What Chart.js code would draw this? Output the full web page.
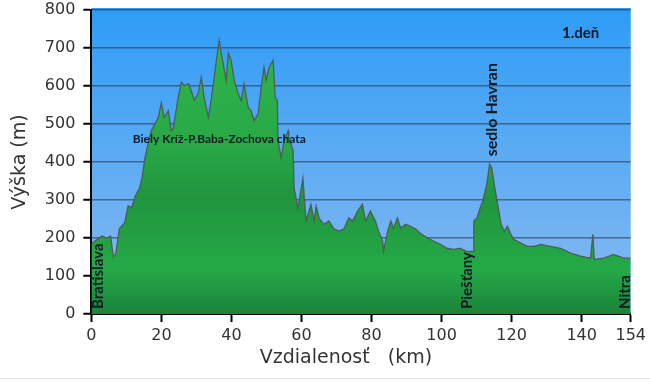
<!DOCTYPE html>
<html>
<head>
<meta charset="utf-8">
<script src="https://cdn.jsdelivr.net/npm/chart.js@4/dist/chart.umd.min.js"></script>
<style>
  html, body { margin: 0; padding: 0; background: #ffffff; }
  #wrap { position: relative; width: 650px; height: 386px; }
  #rule { position: absolute; left: 0; top: 378px; width: 650px; height: 1px; background: #e2e2e2; }
</style>
</head>
<body>
<div id="wrap">
  <canvas id="c" width="650" height="386"></canvas>
  <div id="rule"></div>
</div>
<script>
// ---- data ----
const distanceKm = [
  0.0, 1.5, 3.0, 4.5, 5.5, 6.3, 7.0, 8.0, 9.5, 10.5, 11.5, 12.5, 13.7, 14.5, 15.3, 16.0,
  17.1, 19.1, 20.0, 20.8, 22.0, 22.8, 23.4, 24.8, 25.7, 26.5, 27.7, 28.5, 29.4, 30.5,
  31.4, 32.2, 33.4, 34.2, 35.6, 36.5, 37.6, 38.5, 39.1, 39.9, 40.8, 41.9, 42.8, 43.6,
  44.8, 45.6, 46.5, 47.6, 48.5, 49.3, 49.9, 50.8, 51.9, 52.5, 53.1, 53.3, 54.2, 55.0,
  56.2, 56.4, 57.6, 57.9, 59.0, 60.4, 61.3, 62.7, 63.6, 64.2, 65.0, 66.4, 67.8, 69.3,
  70.7, 72.1, 73.5, 74.6, 76.0, 77.4, 78.3, 79.7, 81.1, 82.0, 83.2, 83.4, 84.6, 85.5,
  86.3, 87.4, 88.3, 89.7, 91.1, 92.5, 94.0, 96.0, 97.7, 99.8, 101.5, 103.5, 105.3, 107.1,
  109.0, 109.2, 110.1, 111.0, 111.8, 112.9, 113.7, 114.3, 115.2, 116.2, 117.0, 117.9,
  118.8, 119.7, 120.5, 122.5, 124.5, 126.3, 128.3, 131.1, 134.0, 136.8, 139.7, 142.5,
  143.2, 143.6, 146.3, 149.1, 152.0, 154.0
];
const elevationM = [
  185, 195, 205, 200, 205, 150, 160, 225, 240, 285, 280, 310, 330, 360, 410, 440,
  482, 517, 556, 517, 535, 482, 490, 570, 610, 601, 606, 588, 562, 580,
  623, 570, 518, 562, 660, 720, 660, 615, 686, 668, 615, 580, 562, 606,
  543, 535, 509, 527, 597, 650, 615, 650, 668, 570, 562, 456, 411, 456,
  482, 465, 430, 332, 279, 358, 245, 289, 245, 284, 253, 236, 245, 224,
  218, 224, 253, 245, 271, 289, 245, 271, 245, 218, 192, 165, 218, 245,
  226, 253, 226, 236, 231, 224, 212, 200, 192, 183, 173, 170, 173, 165,
  165, 245, 253, 279, 298, 342, 395, 385, 332, 279, 236, 218,
  231, 212, 197, 187, 178, 178, 183, 178, 173, 160, 152, 147,
  210, 144, 147, 157, 147, 147
];
const xTickValues = [0, 20, 40, 60, 80, 100, 120, 140, 154];
const yTickStep = 100;
const yMax = 800;

// annotations
const placeLabels = ["Bratislava", "Piešťany", "Nitra"];
const placeKm = [2.0, 107.3, 152.3];
const peakLabel = "sedlo Havran";
const peakKm = 114.3;
const peakElev = 415;
const ridgeLabel = "Biely Kríž-P.Baba-Zochova chata";
const ridgeKm = 11.8;
const ridgeElev = 459;
const dayLabel = "1.deň";
const dayKm = 134.4;
const dayElev = 740;

const points = distanceKm.map((x, i) => ({ x: x, y: elevationM[i] }));

const bgPlugin = {
  id: 'bg',
  beforeDraw(chart) {
    const { ctx, chartArea: a } = chart;
    ctx.save();
    ctx.fillStyle = '#ffffff';
    ctx.fillRect(0, 0, chart.width, chart.height);
    const g = ctx.createLinearGradient(0, a.top, 0, a.bottom);
    g.addColorStop(0, '#2e9cf6');
    g.addColorStop(0.5, '#5eacf3');
    g.addColorStop(1, '#8bbaf0');
    ctx.fillStyle = g;
    ctx.fillRect(a.left, a.top - 2, a.right - a.left, a.bottom - a.top + 2);
    ctx.restore();
  }
};

const labelPlugin = {
  id: 'labels',
  afterDraw(chart) {
    const { ctx, scales: { x, y } } = chart;
    ctx.save();
    ctx.fillStyle = '#0c1a26';
    ctx.font = 'bold 15px Lato, "Open Sans", sans-serif';
    ctx.textAlign = 'left';
    ctx.textBaseline = 'middle';
    placeLabels.forEach((t, i) => {
      ctx.save();
      ctx.translate(x.getPixelForValue(placeKm[i]), y.getPixelForValue(0) - 5);
      ctx.rotate(-Math.PI / 2);
      ctx.fillText(t, 0, 0);
      ctx.restore();
    });
    ctx.font = 'bold 16px Lato, "Open Sans", sans-serif';
    ctx.save();
    ctx.translate(x.getPixelForValue(peakKm), y.getPixelForValue(peakElev));
    ctx.rotate(-Math.PI / 2);
    ctx.fillText(peakLabel, 0, 0);
    ctx.restore();
    ctx.font = 'bold 12px Lato, "Open Sans", sans-serif';
    ctx.fillText(ridgeLabel, x.getPixelForValue(ridgeKm), y.getPixelForValue(ridgeElev));
    ctx.font = 'bold 15px Lato, "Open Sans", sans-serif';
    ctx.fillText(dayLabel, x.getPixelForValue(dayKm), y.getPixelForValue(dayElev));
    ctx.restore();
  }
};

new Chart(document.getElementById('c'), {
  type: 'line',
  data: {
    datasets: [{
      data: points,
      fill: 'start',
      borderColor: 'rgba(80,80,80,0.85)',
      borderWidth: 1.3,
      pointRadius: 0,
      tension: 0,
      backgroundColor: (ctx) => {
        const a = ctx.chart.chartArea;
        if (!a) return '#25a344';
        const g = ctx.chart.ctx.createLinearGradient(0, a.top, 0, a.bottom);
        g.addColorStop(0, '#30ba4d');
        g.addColorStop(0.45, '#28a846');
        g.addColorStop(0.62, '#20953e');
        g.addColorStop(0.85, '#25aa47');
        g.addColorStop(1, '#1b833a');
        return g;
      }
    }]
  },
  options: {
    responsive: false,
    animation: false,
    events: [],
    layout: { padding: { left: 9, right: 17, top: 0, bottom: 17 } },
    plugins: { legend: { display: false }, tooltip: { enabled: false } },
    scales: {
      x: {
        type: 'linear',
        min: 0,
        max: 154,
        afterBuildTicks: (s) => { s.ticks = xTickValues.map(v => ({ value: v })); },
        ticks: {
          autoSkip: false, maxRotation: 0, padding: 4,
          color: '#333333',
          font: { family: '"DejaVu Sans", Verdana, sans-serif', size: 16 }
        },
        grid: { drawOnChartArea: false, drawTicks: true, tickLength: 8, tickColor: '#000000', tickWidth: 2 },
        border: { display: true, color: '#000000', width: 2 },
        title: {
          display: true,
          text: 'Vzdialenosť   (km)     ',
          color: '#333333',
          font: { family: '"DejaVu Sans", Verdana, sans-serif', size: 19 },
          padding: { top: -3, bottom: 0 }
        }
      },
      y: {
        min: 0,
        max: yMax,
        z: 1,
        afterFit: (s) => { s.paddingTop = 10; },
        ticks: {
          stepSize: yTickStep, padding: 8,
          color: '#333333',
          font: { family: '"DejaVu Sans", Verdana, sans-serif', size: 16 }
        },
        grid: { color: 'rgba(35,55,90,0.6)', lineWidth: 1.5, tickLength: 8, tickColor: '#000000', tickWidth: 2 },
        border: { display: true, color: '#000000', width: 2 },
        title: {
          display: true,
          text: 'Výška (m)',
          color: '#333333',
          font: { family: '"DejaVu Sans", Verdana, sans-serif', size: 19 },
          padding: { top: 0, bottom: 5 }
        }
      }
    }
  },
  plugins: [bgPlugin, labelPlugin]
});
</script>
</body>
</html>
